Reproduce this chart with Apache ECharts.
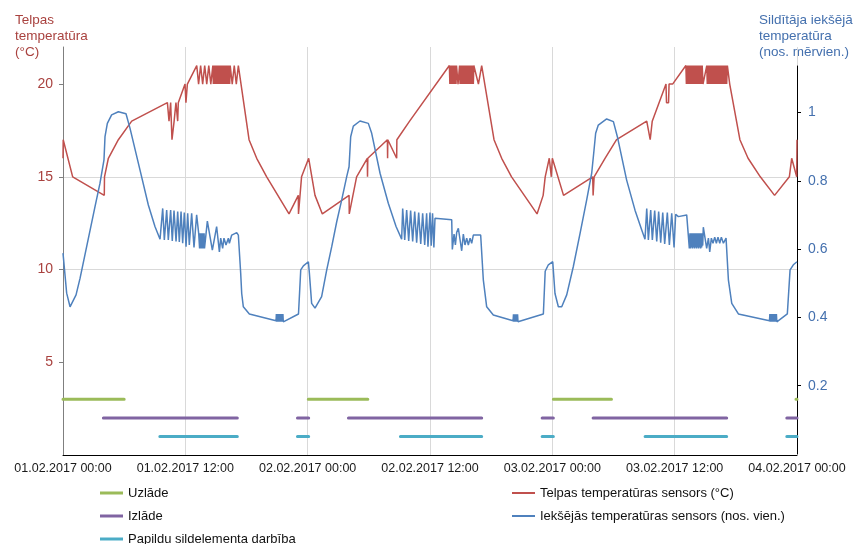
<!DOCTYPE html>
<html><head><meta charset="utf-8">
<script src="https://cdn.jsdelivr.net/npm/echarts@6/dist/echarts.min.js"></script>
<style>html,body{margin:0;padding:0;background:#fff}#c{width:867px;height:544px}</style>
</head><body><div id="c"></div>
<script>
// x values: hours since 01.02.2017 00:00
const xTickLabels = ['01.02.2017 00:00','01.02.2017 12:00','02.02.2017 00:00','02.02.2017 12:00','03.02.2017 00:00','03.02.2017 12:00','04.02.2017 00:00'];
const leftTicks = [5, 10, 15, 20];
const rightTicks = [0.2, 0.4, 0.6, 0.8, 1];

const seriesNames = ['Uzlāde', 'Izlāde', 'Papildu sildelementa darbība',
  'Telpas temperatūras sensors (°C)', 'Iekšējās temperatūras sensors (nos. vien.)'];

// [start hour, end hour] periods and their plotted level (left axis)
const chargePeriods = [[0, 6.0], [24.06, 29.9], [48.1, 53.8], [71.9, 72]];
const chargeLevel = 3;
const dischargePeriods = [[3.96, 17.1], [23.0, 24.1], [28.0, 41.07], [47.0, 48.1], [52.0, 65.1], [71.0, 72]];
const dischargeLevel = 2;
const auxPeriods = [[9.5, 17.1], [23.0, 24.1], [33.1, 41.07], [47.0, 48.1], [57.1, 65.1], [71.0, 72]];
const auxLevel = 1;

// Room temperature sensor (°C)
const roomTemp = [
[0,16],[0.02,17],[0.95,15],[4.05,14],[4.07,15],[4.45,16],[5.43,17],[6.74,18],[10.24,19],[10.4,18],[10.56,19],[10.69,17],[10.9,18],[11.08,19],[11.25,18],[11.31,19],[11.97,20],[12.06,19],[12.2,20],[13.12,21],
[13.3,20],[13.5,21],[13.7,20],[13.9,21],[14.1,20],[14.3,21],[14.5,20],[14.7,21],
[14.75,20],[14.8,21],[14.85,20],[14.9,21],[14.95,20],[15.0,21],[15.05,20],[15.1,21],[15.15,20],[15.2,21],[15.25,20],[15.3,21],[15.35,20],[15.4,21],[15.45,20],[15.5,21],[15.55,20],[15.6,21],[15.65,20],[15.7,21],[15.75,20],[15.8,21],[15.85,20],[15.9,21],[15.95,20],[16.0,21],[16.05,20],[16.1,21],[16.15,20],[16.2,21],[16.25,20],[16.3,21],[16.35,20],[16.4,21],
[16.6,20],[16.8,21],[17.0,20],[17.2,21],
[18.25,17],[19.0,16],[19.98,15],[22.17,13],[23.08,14],[23.1,13],[23.4,15],[24.1,16],[24.72,14],[25.44,13],[28.06,14],[28.08,13],[28.8,15],[29.85,16],[29.87,15],[29.9,16],[31.82,17],[31.84,16],[31.86,17],[32.73,16],[32.75,17],[34.0,18],[37.9,21],
[37.95,20],[38.0,21],[38.05,20],[38.1,21],[38.15,20],[38.2,21],[38.25,20],[38.3,21],[38.35,20],[38.4,21],[38.45,20],[38.5,21],[38.55,20],[38.6,21],[38.75,20],[38.9,21],
[38.95,20],[39.0,21],[39.05,20],[39.1,21],[39.15,20],[39.2,21],[39.25,20],[39.3,21],[39.35,20],[39.4,21],[39.45,20],[39.5,21],[39.55,20],[39.6,21],[39.65,20],[39.7,21],[39.75,20],[39.8,21],[39.85,20],[39.9,21],[39.95,20],[40.0,21],[40.05,20],[40.1,21],[40.15,20],[40.2,21],[40.25,20],[40.3,21],[40.75,20],[41.07,21],
[42.28,17],[43.03,16],[44.0,15],[46.5,13],[47.1,14],[47.3,15],[47.7,16],[47.9,15],[48.0,16],[49.1,14],[51.96,15],[52.0,14],[52.1,15],[53.17,16],[54.3,17],[57.26,18],[57.6,17],[57.8,18],[59.15,20],[59.2,19],[59.4,19],[59.45,20],[59.8,20],[61.1,21],
[61.15,20],[61.2,21],[61.25,20],[61.3,21],[61.35,20],[61.4,21],[61.45,20],[61.5,21],[61.55,20],[61.6,21],[61.65,20],[61.7,21],[61.75,20],[61.8,21],[61.85,20],[61.9,21],[61.95,20],[62.0,21],[62.05,20],[62.1,21],[62.15,20],[62.2,21],[62.25,20],[62.3,21],[62.35,20],[62.4,21],[62.45,20],[62.5,21],[62.55,20],[62.6,21],[62.65,20],[62.7,21],[62.78,20],[63.15,21],
[63.2,20],[63.25,21],[63.3,20],[63.35,21],[63.4,20],[63.45,21],[63.5,20],[63.55,21],[63.6,20],[63.65,21],[63.7,20],[63.75,21],[63.8,20],[63.85,21],[63.9,20],[63.95,21],[64.0,20],[64.05,21],[64.1,20],[64.15,21],[64.2,20],[64.25,21],[64.3,20],[64.35,21],[64.4,20],[64.45,21],[64.5,20],[64.55,21],[64.6,20],[64.65,21],[64.7,20],[64.75,21],[64.8,20],[64.85,21],[64.9,20],[64.95,21],[65.0,20],[65.05,21],[65.1,20],[65.17,21],
[65.4,20],[66.4,17],[67.2,16],[68.4,15],[69.8,14],[71.25,15],[71.48,16],[71.97,15],[72,17]
];

// Internal heater temperature sensor (relative units)
const heaterTemp = [
[0,0.588],[0.36,0.471],[0.69,0.431],[1.28,0.466],[1.67,0.514],[2.32,0.607],[3.14,0.724],[3.63,0.793],[4.02,0.861],[4.12,0.929],[4.35,0.968],[4.77,0.993],[5.43,1.002],[6.18,0.996],[6.57,0.954],[7.55,0.832],[8.37,0.729],[9.02,0.666],[9.52,0.629],
[9.78,0.719],[9.94,0.627],[10.17,0.714],[10.33,0.627],[10.56,0.714],[10.72,0.624],[10.89,0.713],[11.09,0.622],[11.25,0.71],[11.41,0.621],[11.58,0.71],[11.74,0.617],[11.9,0.707],[12.07,0.607],[12.23,0.705],[12.39,0.612],[12.62,0.705],[12.85,0.605],[13.11,0.7],[13.31,0.646],
[13.4,0.602],[13.44,0.646],[13.48,0.602],[13.52,0.646],[13.56,0.602],[13.6,0.646],[13.64,0.602],[13.68,0.646],[13.72,0.602],[13.76,0.646],[13.8,0.602],[13.84,0.646],[13.88,0.602],
[14.16,0.682],[14.65,0.597],[15.07,0.666],[15.34,0.592],[15.47,0.632],[15.66,0.602],[15.79,0.632],[15.99,0.612],[16.22,0.632],[16.32,0.617],[16.55,0.641],[17.04,0.648],[17.2,0.641],[17.43,0.529],[17.53,0.47],[17.69,0.431],[18.28,0.41],
[20.9,0.39],[20.93,0.41],[20.97,0.387],[21.01,0.41],[21.05,0.387],[21.09,0.41],[21.13,0.387],[21.17,0.41],[21.21,0.387],[21.25,0.41],[21.29,0.387],[21.33,0.41],[21.37,0.387],[21.41,0.41],[21.45,0.387],[21.49,0.41],[21.53,0.387],[21.57,0.41],[21.61,0.387],[23.1,0.41],[23.32,0.539],[23.58,0.551],[24.07,0.563],
[24.17,0.529],[24.39,0.441],[24.72,0.427],[25.37,0.461],[25.87,0.539],[26.36,0.607],[26.85,0.68],[27.34,0.744],[27.83,0.812],[28.06,0.841],[28.22,0.929],[28.48,0.96],[29.13,0.975],[29.95,0.968],[30.28,0.939],[31.1,0.822],[31.91,0.734],[32.67,0.666],[33.22,0.629],
[33.32,0.719],[33.52,0.627],[33.71,0.714],[33.91,0.624],[34.1,0.713],[34.3,0.622],[34.5,0.71],[34.69,0.619],[34.89,0.707],[35.09,0.615],[35.28,0.705],[35.48,0.612],[35.67,0.705],[35.8,0.607],[36.0,0.707],[36.12,0.61],[36.25,0.705],[36.38,0.605],[36.49,0.69],[38.13,0.686],[38.19,0.599],[38.36,0.644],[38.49,0.612],[38.62,0.649],[38.78,0.661],[38.94,0.664],[39.11,0.595],[39.27,0.644],[39.43,0.612],[39.6,0.632],[39.76,0.612],[39.93,0.632],[40.09,0.617],[40.25,0.641],[40.42,0.644],[40.74,0.641],[40.97,0.641],[41.23,0.51],[41.56,0.431],[42.21,0.407],
[44.15,0.39],[44.19,0.409],[44.23,0.387],[44.27,0.409],[44.31,0.387],[44.35,0.409],[44.39,0.387],[44.43,0.409],[44.47,0.387],[44.51,0.409],[44.55,0.387],[44.59,0.409],[44.63,0.387],[47.12,0.41],[47.3,0.535],[47.61,0.554],[48.04,0.563],[48.26,0.47],[48.59,0.431],[48.92,0.431],[49.41,0.466],[50.06,0.549],[50.72,0.646],[51.37,0.744],[51.86,0.822],[52.09,0.89],[52.25,0.939],[52.51,0.963],[53.33,0.981],[53.99,0.973],[54.38,0.929],[55.29,0.802],[56.11,0.714],[56.77,0.656],[57.09,0.629],
[57.26,0.719],[57.42,0.627],[57.65,0.714],[57.81,0.627],[58.04,0.713],[58.24,0.622],[58.43,0.71],[58.63,0.619],[58.83,0.707],[59.02,0.615],[59.28,0.707],[59.48,0.612],[59.71,0.705],[59.94,0.605],[60.1,0.702],[60.36,0.695],[61.18,0.7],[61.31,0.7],[61.44,0.602],
[61.5,0.646],[61.55,0.602],[61.6,0.646],[61.65,0.605],[61.7,0.646],[61.75,0.602],[61.8,0.646],[61.85,0.605],[61.9,0.646],[61.95,0.602],[62.0,0.646],[62.05,0.605],[62.1,0.646],[62.15,0.602],[62.2,0.646],[62.25,0.605],[62.3,0.646],[62.35,0.602],[62.4,0.646],[62.45,0.605],[62.5,0.646],[62.55,0.602],[62.6,0.646],[62.65,0.605],[62.7,0.646],[62.75,0.61],
[62.81,0.664],[62.97,0.664],[63.14,0.602],[63.31,0.632],[63.44,0.592],[63.6,0.632],[63.76,0.617],[63.93,0.635],[64.09,0.617],[64.25,0.635],[64.42,0.617],[64.58,0.635],[64.78,0.617],[65.04,0.632],[65.27,0.51],[65.6,0.441],[66.25,0.41],
[69.3,0.39],[69.34,0.41],[69.38,0.387],[69.42,0.41],[69.46,0.387],[69.5,0.41],[69.54,0.387],[69.58,0.41],[69.62,0.387],[69.66,0.41],[69.7,0.387],[69.74,0.41],[69.78,0.387],[69.82,0.41],[69.86,0.387],[69.9,0.41],[69.94,0.387],[69.98,0.41],[70.02,0.387],[71.05,0.41],[71.32,0.539],[71.64,0.554],[72,0.563]
];

function periodsToLine(periods, level) {
  const out = [];
  periods.forEach(p => { out.push([p[0], level], [p[1], level], [p[1], null]); });
  return out;
}

const FONT = '"Liberation Sans", Arial, sans-serif';
const RED_TXT = '#A9423F';
const BLUE_TXT = '#4470AE';
const legendPos = [[100, 486], [100, 509], [100, 532], [512, 486], [512, 509]];

const chart = echarts.init(document.getElementById('c'), null, { renderer: 'canvas' });
chart.setOption({
  animation: false,
  textStyle: { fontFamily: FONT },
  grid: [
    { left: 63, right: 70, top: 47, bottom: 89 },
    { left: 63, right: 70, top: 66, bottom: 90 }
  ],
  xAxis: [
    {
      gridIndex: 0, type: 'value', min: 0, max: 72, interval: 12,
      axisLine: { show: true, onZero: false, lineStyle: { color: '#000', width: 1 } },
      axisTick: { show: false },
      axisLabel: { formatter: v => xTickLabels[Math.round(v / 12)], color: '#1a1a1a', fontSize: 12.5, margin: 7, fontFamily: FONT },
      splitLine: { show: true, lineStyle: { color: '#D9D9D9', width: 1 } }
    },
    { gridIndex: 1, type: 'value', min: 0, max: 72, show: false, axisLine: { onZero: false } }
  ],
  yAxis: [
    {
      gridIndex: 0, type: 'value', min: 0, max: 22, interval: 5, position: 'left',
      axisLine: { show: true, onZero: false, lineStyle: { color: '#7F7F7F', width: 1 } },
      axisTick: { show: true, customValues: leftTicks, length: 4, lineStyle: { color: '#7F7F7F' } },
      axisLabel: { customValues: leftTicks, color: RED_TXT, fontSize: 14, margin: 10, fontFamily: FONT },
      splitLine: { show: true, showMinLine: false, showMaxLine: false, lineStyle: { color: '#D9D9D9', width: 1 } }
    },
    {
      gridIndex: 1, type: 'value', min: 0, max: 1.136, interval: 0.2, position: 'right',
      axisLine: { show: true, onZero: false, lineStyle: { color: '#000', width: 1 } },
      axisTick: { show: true, customValues: rightTicks, length: 4, lineStyle: { color: '#000' } },
      axisLabel: { customValues: rightTicks, color: BLUE_TXT, fontSize: 14, margin: 11, fontFamily: FONT },
      splitLine: { show: false }
    }
  ],
  legend: seriesNames.map((n, i) => ({
    left: legendPos[i][0], top: legendPos[i][1], orient: 'vertical', padding: 0,
    itemWidth: 23, itemHeight: i < 3 ? 3 : 2, icon: 'rect', selectedMode: false,
    data: [n],
    textStyle: { fontSize: 13, color: '#111', lineHeight: 14, fontFamily: FONT }
  })),
  graphic: [
    { type: 'text', left: 15, top: 12, style: { text: 'Telpas\ntemperatūra\n(°C)', fill: RED_TXT, fontSize: 13.5, fontFamily: FONT, lineHeight: 16 } },
    { type: 'text', left: 759, top: 12, style: { text: 'Sildītāja iekšējā\ntemperatūra\n(nos. mērvien.)', fill: BLUE_TXT, fontSize: 13.5, fontFamily: FONT, lineHeight: 16 } }
  ],
  series: [
    { name: seriesNames[0], type: 'line', xAxisIndex: 0, yAxisIndex: 0, data: periodsToLine(chargePeriods, chargeLevel), showSymbol: false, color: '#9BBB59', lineStyle: { width: 3, cap: 'round' }, silent: true },
    { name: seriesNames[1], type: 'line', xAxisIndex: 0, yAxisIndex: 0, data: periodsToLine(dischargePeriods, dischargeLevel), showSymbol: false, color: '#8064A2', lineStyle: { width: 3, cap: 'round' }, silent: true },
    { name: seriesNames[2], type: 'line', xAxisIndex: 0, yAxisIndex: 0, data: periodsToLine(auxPeriods, auxLevel), showSymbol: false, color: '#4BACC6', lineStyle: { width: 3, cap: 'round' }, silent: true },
    { name: seriesNames[3], type: 'line', xAxisIndex: 0, yAxisIndex: 0, data: roomTemp, showSymbol: false, color: '#C0504D', lineStyle: { width: 1.5 }, silent: true },
    { name: seriesNames[4], type: 'line', xAxisIndex: 1, yAxisIndex: 1, data: heaterTemp, showSymbol: false, color: '#4F81BD', lineStyle: { width: 1.5 }, silent: true }
  ]
});
</script>
</body></html>
